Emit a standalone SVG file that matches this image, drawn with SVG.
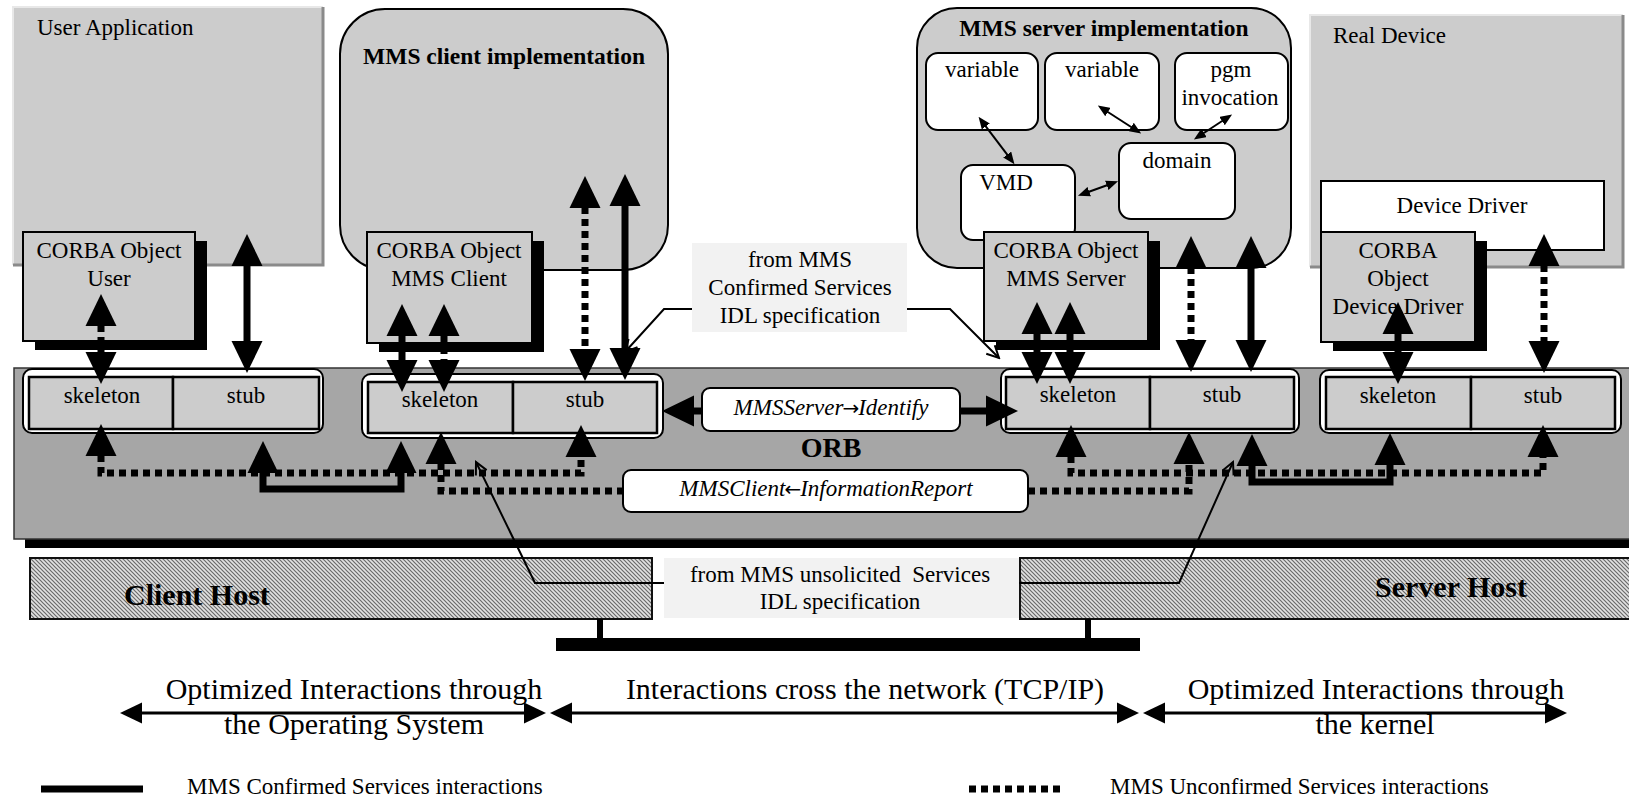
<svg xmlns="http://www.w3.org/2000/svg" width="1629" height="798" viewBox="0 0 1629 798">
<defs>
<style>
.t{font-family:"Liberation Serif","Times New Roman",serif;font-size:23px;fill:#000}
.c{text-anchor:middle}
.b{font-weight:bold}
.i{font-style:italic}
.big{font-size:30px}
.ttl{font-size:23.5px}
.arr{font-family:"DejaVu Sans",sans-serif;font-style:normal;font-size:20px}
.box{fill:#ccc;stroke:#000;stroke-width:2}
.wbox{fill:#fff;stroke:#000;stroke-width:2}
.hi{fill:none;stroke:#e8e8e8;stroke-width:2}
.lo{fill:none;stroke:#8a8a8a;stroke-width:3}
.cell{fill:#ccc;stroke:#000;stroke-width:2.5}
.bar{fill:#fff;stroke:#000;stroke-width:2}
.s{fill:none;stroke:#000;stroke-width:7}
.d{fill:none;stroke:#000;stroke-width:7;stroke-dasharray:7 5}
.thin{fill:none;stroke:#000;stroke-width:2}
.host{fill:url(#hatch);stroke:#111;stroke-width:2}
.note{fill:#f2f2f2}
</style>
<pattern id="hatch" width="4" height="4" patternUnits="userSpaceOnUse">
<rect width="4" height="4" fill="#e2e2e2"/>
<path d="M-1,-1 L5,5 M-1,3 L1,5 M3,-1 L5,1" stroke="#6a6a6a" stroke-width="1.2"/>
</pattern>
<marker id="ah" viewBox="0 -16 32 32" refX="1" refY="0" markerWidth="32" markerHeight="32" markerUnits="userSpaceOnUse" orient="auto-start-reverse">
<path d="M0,-15.5 L32,0 L0,15.5 z" fill="#000"/>
</marker>
<marker id="ahm" viewBox="0 -11 22 22" refX="1" refY="0" markerWidth="22" markerHeight="22" markerUnits="userSpaceOnUse" orient="auto-start-reverse">
<path d="M0,-10.5 L22,0 L0,10.5 z" fill="#000"/>
</marker>
<marker id="ahs" viewBox="0 -5 12 10" refX="1" refY="0" markerWidth="12" markerHeight="10" markerUnits="userSpaceOnUse" orient="auto-start-reverse">
<path d="M0,-5 L12,0 L0,5 z" fill="#000"/>
</marker>
<marker id="open" viewBox="-2 -8 16 16" refX="12" refY="0" markerWidth="16" markerHeight="16" markerUnits="userSpaceOnUse" orient="auto">
<path d="M0,-6 L12,0 L0,6" fill="none" stroke="#000" stroke-width="2"/>
</marker>
</defs>

<rect width="1629" height="798" fill="#fff"/>

<!-- application-level containers -->
<g id="user-application">
<rect x="13" y="7" width="310" height="258" fill="#ccc"/>
<path d="M13,265 V7 H323" class="hi"/>
<path d="M323,7 V265 H13" class="lo"/>
<text x="37" y="35" class="t">User Application</text>
</g>

<g id="mms-client-implementation">
<rect x="340" y="9" width="328" height="261" rx="45" class="box"/>
<text x="504" y="64" class="t c b ttl">MMS client implementation</text>
</g>

<g id="mms-server-implementation">
<rect x="917" y="8" width="374" height="260" rx="40" class="box"/>
<text x="1104" y="36" class="t c b ttl">MMS server implementation</text>
</g>
<g id="variable-1">
<rect x="926" y="53" width="112" height="77" rx="12" class="wbox"/>
<text x="982" y="77" class="t c">variable</text>
</g>
<g id="variable-2">
<rect x="1045" y="53" width="114" height="77" rx="12" class="wbox"/>
<text x="1102" y="77" class="t c">variable</text>
</g>
<g id="pgm-invocation">
<rect x="1175" y="53" width="113" height="77" rx="12" class="wbox"/>
<text x="1231" y="77" class="t c">pgm</text>
<text x="1230" y="105" class="t c">invocation</text>
</g>
<g id="domain">
<rect x="1119" y="143" width="116" height="76" rx="12" class="wbox"/>
<text x="1177" y="168" class="t c">domain</text>
</g>
<g id="vmd">
<rect x="961" y="165" width="114" height="75" rx="12" class="wbox"/>
<text x="1006" y="190" class="t c">VMD</text>
</g>

<g id="real-device">
<rect x="1310" y="15" width="313" height="252" fill="#ccc"/>
<path d="M1310,267 V15 H1623" class="hi"/>
<path d="M1623,15 V267 H1310" class="lo"/>
<text x="1333" y="43" class="t">Real Device</text>
</g>
<g id="device-driver">
<rect x="1321" y="181" width="283" height="69" class="wbox"/>
<text x="1462" y="213" class="t c">Device Driver</text>
</g>

<!-- object request broker -->
<g id="orb">
<rect x="25" y="539" width="1610" height="9" fill="#000"/>
<rect x="14" y="368" width="1625" height="171" fill="#a6a6a6" stroke="#333" stroke-width="1.5"/>
<text x="831" y="457" class="t c b" style="font-size:28px">ORB</text>
</g>

<!-- CORBA objects -->
<g id="corba-user">
<rect x="35" y="241" width="172" height="109" fill="#000"/>
<rect x="23" y="232" width="172" height="109" class="box"/>
<text x="109" y="258" class="t c">CORBA Object</text>
<text x="109" y="286" class="t c">User</text>
</g>
<g id="corba-mms-client">
<rect x="379" y="241" width="165" height="111" fill="#000"/>
<rect x="367" y="232" width="165" height="111" class="box"/>
<text x="449" y="258" class="t c">CORBA Object</text>
<text x="449" y="286" class="t c">MMS Client</text>
</g>
<g id="corba-mms-server">
<rect x="996" y="241" width="164" height="109" fill="#000"/>
<rect x="984" y="232" width="164" height="109" class="box"/>
<text x="1066" y="258" class="t c">CORBA Object</text>
<text x="1066" y="286" class="t c">MMS Server</text>
</g>
<g id="corba-device-driver">
<rect x="1333" y="241" width="154" height="110" fill="#000"/>
<rect x="1321" y="232" width="154" height="110" class="box"/>
<text x="1398" y="258" class="t c">CORBA</text>
<text x="1398" y="286" class="t c">Object</text>
<text x="1398" y="314" class="t c">Device Driver</text>
</g>

<!-- skeleton / stub pairs -->
<g id="user-skeleton-stub">
<rect x="23" y="369" width="300" height="64" rx="9" class="bar"/>
<rect x="29" y="377" width="144" height="52" class="cell"/>
<rect x="173" y="377" width="146" height="52" class="cell"/>
<text x="102" y="403" class="t c">skeleton</text>
<text x="246" y="403" class="t c">stub</text>
</g>
<g id="client-skeleton-stub">
<rect x="362" y="374" width="301" height="64" rx="9" class="bar"/>
<rect x="368" y="382" width="145" height="51" class="cell"/>
<rect x="513" y="382" width="144" height="51" class="cell"/>
<text x="440" y="407" class="t c">skeleton</text>
<text x="585" y="407" class="t c">stub</text>
</g>
<g id="server-skeleton-stub">
<rect x="1001" y="369" width="298" height="64" rx="9" class="bar"/>
<rect x="1006" y="377" width="144" height="52" class="cell"/>
<rect x="1150" y="377" width="144" height="52" class="cell"/>
<text x="1078" y="402" class="t c">skeleton</text>
<text x="1222" y="402" class="t c">stub</text>
</g>
<g id="device-skeleton-stub">
<rect x="1320" y="370" width="301" height="63" rx="9" class="bar"/>
<rect x="1326" y="377" width="145" height="52" class="cell"/>
<rect x="1471" y="377" width="144" height="52" class="cell"/>
<text x="1398" y="403" class="t c">skeleton</text>
<text x="1543" y="403" class="t c">stub</text>
</g>

<!-- hosts and network -->
<g id="client-host">
<rect x="30" y="558" width="622" height="61" class="host"/>
<text x="124" y="605" class="t b big">Client Host</text>
</g>
<g id="server-host">
<rect x="1020" y="558" width="620" height="61" class="host"/>
<text x="1375" y="597" class="t b big">Server Host</text>
</g>
<g id="network">
<rect x="597" y="619" width="6" height="19" fill="#000"/>
<rect x="1085" y="619" width="6" height="19" fill="#000"/>
<rect x="556" y="638" width="584" height="13" fill="#000"/>
</g>

<!-- IDL notes -->
<g id="confirmed-idl-note">
<rect x="692" y="243" width="215" height="89" class="note"/>
<text x="800" y="267" class="t c">from MMS</text>
<text x="800" y="295" class="t c">Confirmed Services</text>
<text x="800" y="323" class="t c">IDL specification</text>
</g>
<g id="unsolicited-idl-note">
<rect x="664" y="558" width="355" height="60" class="note"/>
<text x="840" y="582" class="t c" xml:space="preserve">from MMS unsolicited  Services</text>
<text x="840" y="609" class="t c">IDL specification</text>
</g>

<!-- interactions -->
<g id="connectors">
<!-- objects to skeletons / stubs -->
<path class="d" d="M101,325 V353" marker-start="url(#ah)" marker-end="url(#ah)"/>
<path class="s" d="M247,265 V342" marker-start="url(#ah)" marker-end="url(#ah)"/>
<path class="s" d="M402,335 V361" marker-start="url(#ah)" marker-end="url(#ah)"/>
<path class="d" d="M444,335 V361" marker-start="url(#ah)" marker-end="url(#ah)"/>
<path class="d" d="M585,207 V350" marker-start="url(#ah)" marker-end="url(#ah)"/>
<path class="s" d="M625,205 V349" marker-start="url(#ah)" marker-end="url(#ah)"/>
<path class="s" d="M1037,333 V353" marker-start="url(#ah)" marker-end="url(#ah)"/>
<path class="s" d="M1070,333 V353" marker-start="url(#ah)" marker-end="url(#ah)"/>
<path class="d" d="M1191,267 V341" marker-start="url(#ah)" marker-end="url(#ah)"/>
<path class="s" d="M1251,267 V341" marker-start="url(#ah)" marker-end="url(#ah)"/>
<path class="s" d="M1398,333 V353" marker-start="url(#ah)" marker-end="url(#ah)"/>
<path class="d" d="M1544,265 V342" marker-start="url(#ah)" marker-end="url(#ah)"/>
<!-- paths through the ORB -->
<path class="d" d="M101,455 V473 H581 V456" marker-start="url(#ah)" marker-end="url(#ah)"/>
<path class="s" d="M263,472 V489 H401 V472" marker-start="url(#ah)" marker-end="url(#ah)"/>
<path class="d" d="M441,463 V491 H623" marker-start="url(#ah)"/>
<path class="d" d="M1028,491 H1189 V463" marker-end="url(#ah)"/>
<path class="d" d="M1071,456 V473 H1543 V456" marker-start="url(#ah)" marker-end="url(#ah)"/>
<path class="s" d="M1252,465 V482 H1390 V464" marker-start="url(#ah)" marker-end="url(#ah)"/>
<path class="s" d="M693,411 H987" marker-start="url(#ah)" marker-end="url(#ah)"/>
<!-- MMS server object model -->
<path class="thin" d="M985.2,125.6 L1007.8,155.4" marker-start="url(#ahs)" marker-end="url(#ahs)"/>
<path class="thin" d="M1107.1,111.5 L1131.9,127.5" marker-start="url(#ahs)" marker-end="url(#ahs)"/>
<path class="thin" d="M1222.9,120.5 L1203.1,133.5" marker-start="url(#ahs)" marker-end="url(#ahs)"/>
<path class="thin" d="M1088.3,192 L1107.7,185" marker-start="url(#ahs)" marker-end="url(#ahs)"/>
</g>

<g id="identify-message">
<rect x="702" y="388" width="258" height="43" rx="8" class="wbox"/>
<text x="831" y="415" class="t c i">MMSServer<tspan class="arr" dx="-1">→</tspan><tspan dx="-1">Identify</tspan></text>
</g>
<g id="information-report-message">
<rect x="623" y="470" width="405" height="42" rx="8" class="wbox"/>
<text x="826" y="496" class="t c i">MMSClient<tspan class="arr" dx="-1">←</tspan><tspan dx="-1">InformationReport</tspan></text>
</g>

<g id="callouts">
<path class="thin" d="M692,309 H664 L625,352" marker-end="url(#open)"/>
<path class="thin" d="M907,309 H950 L999,358" marker-end="url(#open)"/>
<path class="thin" d="M664,583 H535 L476,462" marker-end="url(#open)"/>
<path class="thin" d="M1019,583 H1179 L1233,462" marker-end="url(#open)"/>
</g>

<!-- interaction ranges -->
<g id="ranges">
<path d="M141,713 H525" fill="none" stroke="#000" stroke-width="3" marker-start="url(#ahm)" marker-end="url(#ahm)"/>
<path d="M571,713 H1118" fill="none" stroke="#000" stroke-width="3" marker-start="url(#ahm)" marker-end="url(#ahm)"/>
<path d="M1164,713 H1546" fill="none" stroke="#000" stroke-width="3" marker-start="url(#ahm)" marker-end="url(#ahm)"/>
<text x="354" y="699" class="t c big">Optimized Interactions through</text>
<text x="354" y="734" class="t c big">the Operating System</text>
<text x="865" y="699" class="t c big">Interactions cross the network (TCP/IP)</text>
<text x="1376" y="699" class="t c big">Optimized Interactions through</text>
<text x="1375" y="734" class="t c big">the kernel</text>
</g>

<!-- legend -->
<g id="legend">
<path class="s" d="M41,789 H143"/>
<text x="187" y="794" class="t">MMS Confirmed Services interactions</text>
<path class="d" d="M969,789 H1065"/>
<text x="1110" y="794" class="t">MMS Unconfirmed Services interactions</text>
</g>
</svg>
